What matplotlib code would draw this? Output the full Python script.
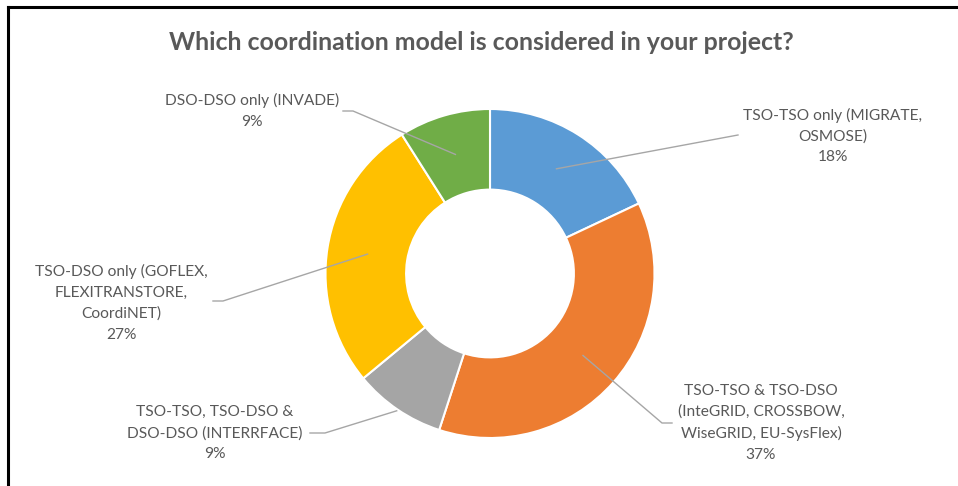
import numpy as np
import matplotlib
matplotlib.use("Agg")
import matplotlib.pyplot as plt

# data
labels = [
    "TSO-TSO only (MIGRATE,\nOSMOSE)",
    "TSO-TSO & TSO-DSO\n(InteGRID, CROSSBOW,\nWiseGRID, EU-SysFlex)",
    "TSO-TSO, TSO-DSO &\nDSO-DSO (INTERRFACE)",
    "TSO-DSO only (GOFLEX,\nFLEXITRANSTORE,\nCoordiNET)",
    "DSO-DSO only (INVADE)",
]
shares = [18, 37, 9, 27, 9]
colors = ["#5B9BD5", "#ED7D31", "#A5A5A5", "#FFC000", "#70AD47"]

W, H = 958, 486
TEXT = "#595959"
LINE = "#A6A6A6"

# label layout (pixel coords, y from top): text center, elbow point, anchor radius
label_xy = [(833, 136), (761, 423), (215, 433), (121, 303), (252, 111)]
elbow = [(738, 135), (662, 423), (325, 433), (223, 301), (353, 111)]
tail = [(0, 0), (10, 0), (-15, 0), (-10, 0), (-10, 0)]
anchor_r = [124, 124, 166, 124, 124]


def py(y):
    return H - y


fig = plt.figure(figsize=(W / 100, H / 100), dpi=100)
ax = fig.add_axes([0, 0, 1, 1])

cx, cy, R = 490, 273.5, 164.5
wedges, _ = ax.pie(shares, colors=colors, startangle=90, counterclock=False,
                   radius=R, center=(cx, py(cy)), frame=True,
                   wedgeprops=dict(width=R * 0.49, edgecolor="white", linewidth=1.5))
ax.set_xlim(0, W)
ax.set_ylim(0, H)
ax.set_aspect("equal")
ax.axis("off")

for w, lab, s, (tx, ty), (ex, ey), (dx, dy), r in zip(
        wedges, labels, shares, label_xy, elbow, tail, anchor_r):
    ang = np.deg2rad((w.theta1 + w.theta2) / 2)
    ax_, ay_ = cx + r * np.cos(ang), py(cy) + r * np.sin(ang)
    xs = [ax_, ex]
    ys = [ay_, py(ey)]
    if dx:
        xs.append(ex + dx)
        ys.append(py(ey + dy))
    ax.plot(xs, ys, color=LINE, lw=1)
    ax.text(tx, py(ty), f"{lab}\n{s}%", ha="center", va="center",
            color=TEXT, fontsize=11.2, family="Lato", linespacing=1.6)

fig.text(481 / W, 1 - 42 / H, "Which coordination model is considered in your project?",
         ha="center", va="center", color=TEXT, fontsize=17.9, fontweight="bold",
         family="Lato")

# frame edges of the screenshot
fig.add_artist(plt.Line2D([8 / W, 1], [1 - 7 / H] * 2, color="black", lw=2.2,
                          transform=fig.transFigure))
fig.add_artist(plt.Line2D([8 / W] * 2, [0, 1 - 7 / H], color="black", lw=2.2,
                          transform=fig.transFigure))

fig.savefig("out.png", dpi=100)
